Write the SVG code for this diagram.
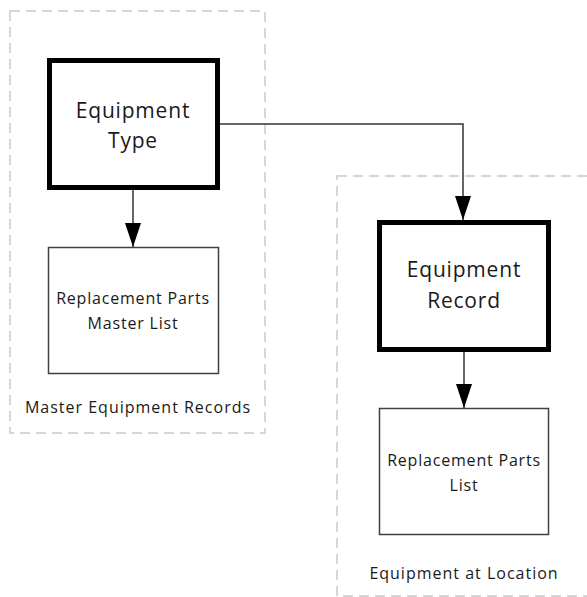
<svg xmlns="http://www.w3.org/2000/svg" width="587" height="597" viewBox="0 0 587 597">
<defs>
<style>
.container{fill:none;stroke:#d6d6d6;stroke-width:2;stroke-dasharray:10 6;}
.main{fill:#fff;stroke:#000;stroke-width:5;}
.sub{fill:#fff;stroke:#404040;stroke-width:1.5;}
.conn{fill:none;stroke:#333;stroke-width:1.5;}
text{font-family:"Open Sans","Noto Sans","DejaVu Sans",sans-serif;fill:#1a1a1a;text-anchor:middle;}
.big{font-size:21px;letter-spacing:0.8px;}
.small{font-size:16px;letter-spacing:0.8px;}
.lbl{font-size:16px;letter-spacing:1px;}
</style>
<marker id="arr" viewBox="0 0 24 16" refX="24" refY="8" markerWidth="24" markerHeight="16" markerUnits="userSpaceOnUse" orient="auto">
<path d="M0,0 L24,8 L0,16 z" fill="#000"/>
</marker>
</defs>
<rect width="587" height="597" fill="#fff"/>
<g id="master-equipment-records">
<rect class="container" x="10" y="11" width="255" height="422"/>
<text class="lbl" x="138" y="413">Master Equipment Records</text>
</g>
<g id="equipment-at-location">
<rect class="container" x="337" y="176" width="270" height="420"/>
<text class="lbl" x="464" y="579">Equipment at Location</text>
</g>
<g id="connectors">
<path class="conn" d="M133,190 L133,247" marker-end="url(#arr)"/>
<path class="conn" d="M220,124 L463,124 L463,220" marker-end="url(#arr)"/>
<path class="conn" d="M464,351 L464,408" marker-end="url(#arr)"/>
</g>
<g id="equipment-type">
<rect class="main" x="49.5" y="60.5" width="168" height="127"/>
<text class="big" x="133" y="118">Equipment</text>
<text class="big" x="133" y="148">Type</text>
</g>
<g id="replacement-parts-master-list">
<rect class="sub" x="48.5" y="247.5" width="170" height="126"/>
<text class="small" x="133" y="304">Replacement Parts</text>
<text class="small" x="133" y="329">Master List</text>
</g>
<g id="equipment-record">
<rect class="main" x="379.5" y="222.5" width="169" height="127"/>
<text class="big" x="464" y="277">Equipment</text>
<text class="big" x="464" y="308">Record</text>
</g>
<g id="replacement-parts-list">
<rect class="sub" x="379.5" y="408.5" width="169" height="126"/>
<text class="small" x="464" y="466">Replacement Parts</text>
<text class="small" x="464" y="491">List</text>
</g>
</svg>
